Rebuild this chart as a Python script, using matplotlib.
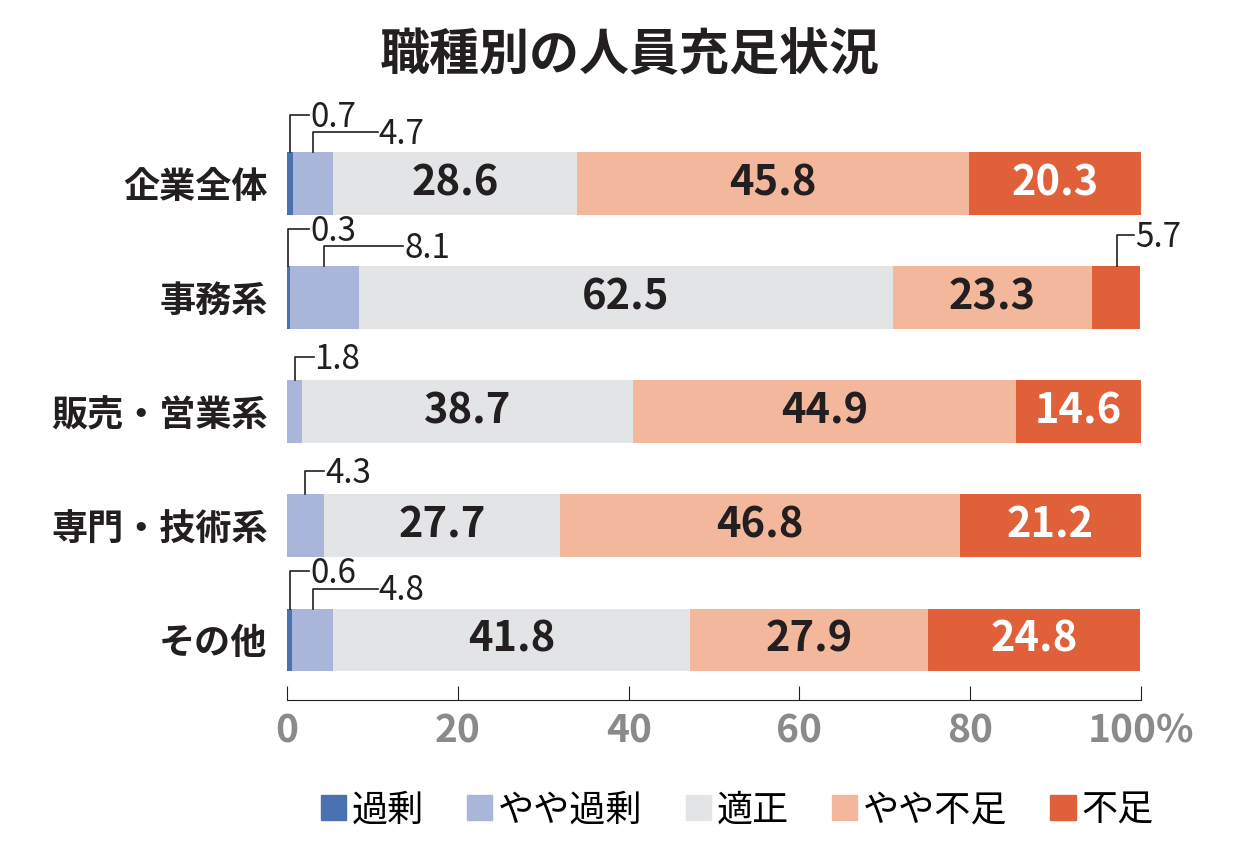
import matplotlib
matplotlib.use("Agg")
import matplotlib.pyplot as plt
from matplotlib.patches import Rectangle

plt.rcParams['font.family'] = ['Noto Sans CJK JP', 'DejaVu Sans']

categories = ['企業全体', '事務系', '販売・営業系', '専門・技術系', 'その他']
series_names = ['過剰', 'やや過剰', '適正', 'やや不足', '不足']
kajo = [0.7, 0.3, 0.0, 0.0, 0.6]
yaya_kajo = [4.7, 8.1, 1.8, 4.3, 4.8]
tekisei = [28.6, 62.5, 38.7, 27.7, 41.8]
yaya_fusoku = [45.8, 23.3, 44.9, 46.8, 27.9]
fusoku = [20.3, 5.7, 14.6, 21.2, 24.8]
xticks = [0, 20, 40, 60, 80, 100]
xticklabels = ['0', '20', '40', '60', '80', '100%']

colors = ['#4a72b0', '#a9b5d9', '#e3e4e6', '#f3b89c', '#e0603a']
series = [kajo, yaya_kajo, tekisei, yaya_fusoku, fusoku]

fig = plt.figure(figsize=(12.6, 8.6), dpi=100)
ax = fig.add_axes([0.2278, 0.186, 0.6778, 0.6977])
H = 0.55
for i, cat in enumerate(categories):
    left = 0
    for s, (vals, c) in enumerate(zip(series, colors)):
        v = vals[i]
        if v > 0:
            ax.barh(i, v, left=left, height=H, color=c, edgecolor='none')
            if v >= 10:
                ax.text(left + v / 2, i, f'{v:.1f}', ha='center', va='center',
                        fontsize=30, fontweight='bold',
                        color='white' if s == 4 else '#231f20')
        left += v

def leader(i, xc, ylev, xend, label):
    top = i - H / 2
    ax.plot([xc, xc, xend], [top, i - ylev, i - ylev], color='#231f20', lw=1.2,
            clip_on=False)
    ax.text(xend + 0.1, i - ylev + 0.02, label, ha='left', va='center', fontsize=24,
            color='#231f20')

for i in range(len(categories)):
    if kajo[i] > 0:
        leader(i, kajo[i] / 2, 0.6, 2.6, f'{kajo[i]:.1f}')
        leader(i, kajo[i] + yaya_kajo[i] / 2, 0.45, kajo[i] + yaya_kajo[i] + 5.2,
               f'{yaya_kajo[i]:.1f}')
    elif yaya_kajo[i] < 10:
        leader(i, yaya_kajo[i] / 2, 0.48, yaya_kajo[i] / 2 + 2.2, f'{yaya_kajo[i]:.1f}')
    if fusoku[i] < 10:
        xc = 100 - fusoku[i] / 2
        leader(i, xc, 0.55, xc + 2.0, f'{fusoku[i]:.1f}')

ax.set_xlim(0, 100)
ax.set_ylim(4.526, -0.73)
ax.set_yticks(range(len(categories)))
ax.set_yticklabels(categories, fontsize=26, fontweight='bold', color='#231f20')
ax.tick_params(axis='y', length=0, pad=14)
ax.set_xticks(xticks)
ax.set_xticklabels(xticklabels, fontsize=28, fontweight='bold', color='#8a8a8a')
ax.tick_params(axis='x', direction='in', length=10, color='#231f20', pad=8)
for sp in ['top', 'right', 'left']:
    ax.spines[sp].set_visible(False)
ax.spines['bottom'].set_color('#231f20')

fig.text(0.5, 0.935, '職種別の人員充足状況', ha='center', va='center',
         fontsize=36, fontweight='bold', color='#231f20')

handles = [Rectangle((0, 0), 1, 1, color=c) for c in colors]
fig.legend(handles, series_names, loc='center', bbox_to_anchor=(0.585, 0.058),
           ncol=5, frameon=False, fontsize=26, handlelength=0.7, handleheight=0.7,
           handletextpad=0.15, columnspacing=1.2)

fig.savefig('out.png', dpi=100)
